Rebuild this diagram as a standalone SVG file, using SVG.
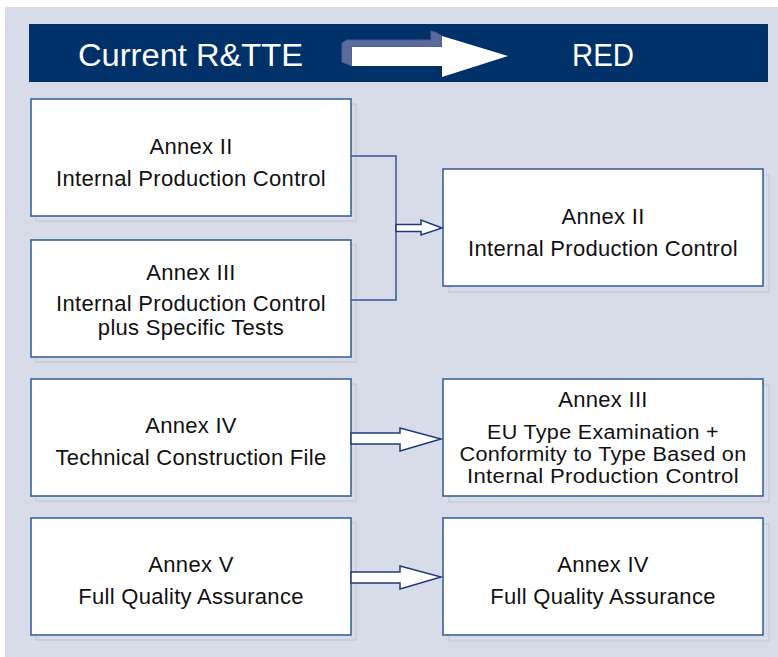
<svg xmlns="http://www.w3.org/2000/svg" width="778" height="657" viewBox="0 0 778 657">
<style>
.box{fill:#fff;stroke:#2F5A96;stroke-width:1.5}
.shadow{fill:none;stroke:#C8CBD9;stroke-width:1.5}
.t{font-family:"Liberation Sans",Arial,sans-serif;font-size:22px;fill:#111;text-anchor:middle;letter-spacing:0.3px}
.s{font-size:20px}
.h{font-family:"Liberation Sans",Arial,sans-serif;font-size:31px;fill:#fff}
.conn{fill:none;stroke:#2F5A96;stroke-width:1.5}
.arr{fill:#fff;stroke:#1E3D78;stroke-width:1.5;stroke-linejoin:miter}
</style>
<rect x="0" y="0" width="778" height="657" fill="#fff"/>
<rect x="5" y="7" width="773" height="650" fill="#D8DBE8"/>
<g id="header">
<rect x="29" y="24" width="739" height="58" fill="#003169"/>
<text class="h" x="78" y="66" textLength="225" lengthAdjust="spacingAndGlyphs">Current R&amp;TTE</text>
<text class="h" x="603" y="66" text-anchor="middle" textLength="62" lengthAdjust="spacingAndGlyphs">RED</text>
<polygon points="342,43 347,40 431,40 431,31 437,33 442,36 442,47 352,47 352,66 342,62" fill="#5C6B9E" stroke="#4A5A8E" stroke-width="1"/>
<polygon points="352,47 442,47 442,36 508,56 442,77 442,66 352,66" fill="#fff"/>
</g>
<g id="l1">
<rect class="shadow" x="36" y="104" width="320" height="117"/>
<rect class="box" x="31" y="99" width="320" height="117"/>
<text class="t" x="191" y="154">Annex II</text>
<text class="t" x="191" y="186">Internal Production Control</text>
</g>
<g id="l2">
<rect class="shadow" x="36" y="245" width="320" height="117"/>
<rect class="box" x="31" y="240" width="320" height="117"/>
<text class="t" x="191" y="280">Annex III</text>
<text class="t" x="191" y="311">Internal Production Control</text>
<text class="t" x="191" y="335">plus Specific Tests</text>
</g>
<g id="l3">
<rect class="shadow" x="36" y="384" width="320" height="117"/>
<rect class="box" x="31" y="379" width="320" height="117"/>
<text class="t" x="191" y="433">Annex IV</text>
<text class="t" x="191" y="465">Technical Construction File</text>
</g>
<g id="l4">
<rect class="shadow" x="36" y="523" width="320" height="117"/>
<rect class="box" x="31" y="518" width="320" height="117"/>
<text class="t" x="191" y="572">Annex V</text>
<text class="t" x="191" y="604">Full Quality Assurance</text>
</g>
<g id="r1">
<rect class="shadow" x="449" y="175" width="320" height="117"/>
<rect class="box" x="443" y="169" width="320" height="117"/>
<text class="t" x="603" y="224">Annex II</text>
<text class="t" x="603" y="256">Internal Production Control</text>
</g>
<g id="r2">
<rect class="shadow" x="449" y="385" width="320" height="117"/>
<rect class="box" x="443" y="379" width="320" height="117"/>
<text class="t" x="603" y="407">Annex III</text>
<text class="t s" x="603" y="439" textLength="232" lengthAdjust="spacingAndGlyphs">EU Type Examination +</text>
<text class="t s" x="603" y="461" textLength="287" lengthAdjust="spacingAndGlyphs">Conformity to Type Based on</text>
<text class="t s" x="603" y="483" textLength="272" lengthAdjust="spacingAndGlyphs">Internal Production Control</text>
</g>
<g id="r3">
<rect class="shadow" x="449" y="524" width="320" height="117"/>
<rect class="box" x="443" y="518" width="320" height="117"/>
<text class="t" x="603" y="572">Annex IV</text>
<text class="t" x="603" y="604">Full Quality Assurance</text>
</g>
<g id="connectors">
<polyline class="conn" points="351,156 396,156 396,300 351,300"/>
<polygon class="arr" points="396,224.5 421,224.5 421,220 442,228 421,235 421,231.5 396,231.5"/>
<polygon class="arr" points="351,433 400,433 400,428 441,439 400,451 400,444 351,444"/>
<polygon class="arr" points="351,572 400,572 400,566 441,577 400,589 400,583 351,583"/>
</g>
</svg>
